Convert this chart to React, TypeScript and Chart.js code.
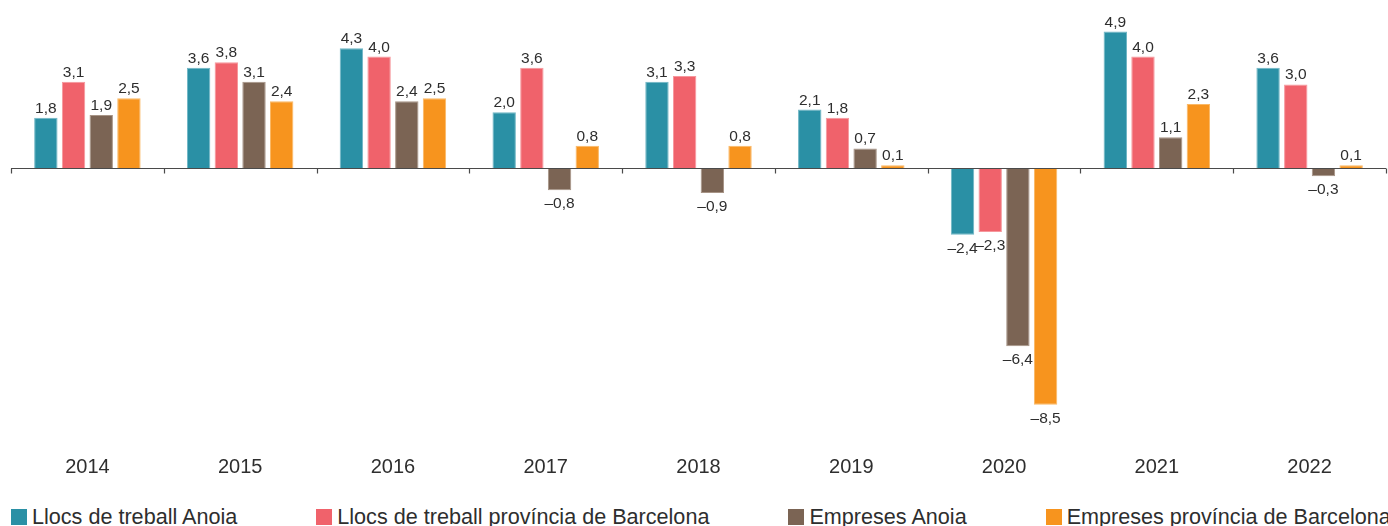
import React, { useEffect, useRef } from "react";
import { Chart, registerables } from "chart.js";

Chart.register(...registerables);

const years = ["2014", "2015", "2016", "2017", "2018", "2019", "2020", "2021", "2022"];
const seriesNames = [
  "Llocs de treball Anoia",
  "Llocs de treball província de Barcelona",
  "Empreses Anoia",
  "Empreses província de Barcelona",
];
const llocsAnoia = [1.8, 3.6, 4.3, 2.0, 3.1, 2.1, -2.4, 4.9, 3.6];
const llocsBarcelona = [3.1, 3.8, 4.0, 3.6, 3.3, 1.8, -2.3, 4.0, 3.0];
const empresesAnoia = [1.9, 3.1, 2.4, -0.8, -0.9, 0.7, -6.4, 1.1, -0.3];
const empresesBarcelona = [2.5, 2.4, 2.5, 0.8, 0.8, 0.1, -8.5, 2.3, 0.1];

const colors = ["#2a90a5", "#f0626b", "#7b6454", "#f7941e"];
const borderColors = ["#6fb6c5", "#f6979c", "#a79486", "#fab865"];

const FONT = "'Liberation Sans', Arial, Helvetica, sans-serif";
const TEXT = "#2e2e2e";

const fmt = (v: number) => (v < 0 ? "\u2013" : "") + Math.abs(v).toFixed(1).replace(".", ",");

const labelsPlugin = {
  id: "valueLabels",
  afterDatasetsDraw(chart: any) {
    const ctx = chart.ctx;
    ctx.save();
    ctx.font = `15.5px ${FONT}`;
    ctx.fillStyle = TEXT;
    ctx.textAlign = "center";
    chart.data.datasets.forEach((ds: any, di: number) => {
      const meta = chart.getDatasetMeta(di);
      meta.data.forEach((el: any, i: number) => {
        const v = ds.data[i];
        if (v >= 0) {
          ctx.textBaseline = "alphabetic";
          ctx.fillText(fmt(v), el.x, el.y - 5);
        } else {
          ctx.textBaseline = "top";
          ctx.fillText(fmt(v), el.x, el.y + 6);
        }
      });
    });
    ctx.restore();
  },
};

const axisPlugin = {
  id: "zeroAxis",
  afterDatasetsDraw(chart: any) {
    const ctx = chart.ctx;
    const xs = chart.scales.x;
    const ys = chart.scales.y;
    const y0 = Math.round(ys.getPixelForValue(0)) + 0.5;
    const { left, right } = chart.chartArea;
    ctx.save();
    ctx.strokeStyle = "#4a4a4a";
    ctx.lineWidth = 1.2;
    ctx.beginPath();
    ctx.moveTo(left, y0);
    ctx.lineTo(right, y0);
    const half = (xs.getPixelForValue(1) - xs.getPixelForValue(0)) / 2;
    for (let i = 0; i <= years.length; i++) {
      const x = Math.round(xs.getPixelForValue(i) - half) + 0.5;
      ctx.moveTo(x, y0);
      ctx.lineTo(x, y0 + 5);
    }
    ctx.stroke();
    ctx.restore();
  },
};

export default function App() {
  const ref = useRef<HTMLCanvasElement | null>(null);

  useEffect(() => {
    if (!ref.current) return;
    const values = [llocsAnoia, llocsBarcelona, empresesAnoia, empresesBarcelona];
    const chart = new Chart(ref.current, {
      type: "bar",
      data: {
        labels: years,
        datasets: values.map((d, i) => ({
          label: seriesNames[i],
          data: d,
          backgroundColor: colors[i],
          borderColor: borderColors[i],
          borderWidth: 1,
          categoryPercentage: 0.725,
          barPercentage: 0.845,
        })),
      },
      options: {
        animation: false,
        responsive: false,
        maintainAspectRatio: false,
        layout: { padding: { left: 11, right: 2, top: 10, bottom: 0 } },
        plugins: { legend: { display: false }, tooltip: { enabled: false } },
        scales: {
          x: {
            grid: { display: false, drawTicks: false },
            border: { display: false },
            ticks: { color: TEXT, font: { family: FONT, size: 20 }, padding: 5, maxRotation: 0 },
            afterFit: (scale: any) => {
              scale.height = 50;
            },
          },
          y: {
            display: false,
            min: -10.126,
            max: 5.673,
          },
        },
      },
      plugins: [labelsPlugin, axisPlugin],
    });
    return () => chart.destroy();
  }, []);

  return (
    <div style={{ position: "fixed", left: 0, top: 0, width: 1388, height: 526, background: "#fff", overflow: "hidden" }}>
      <canvas ref={ref} width={1388} height={500} style={{ display: "block", width: 1388, height: 500 }} />
      <div
        style={{
          position: "absolute",
          left: 11,
          top: 505,
          display: "flex",
          alignItems: "center",
          gap: 79,
          fontFamily: FONT,
          fontSize: 21.6,
          color: TEXT,
          whiteSpace: "nowrap",
          height: 24,
        }}
      >
        {seriesNames.map((n, i) => (
          <div key={n} style={{ display: "flex", alignItems: "center" }}>
            <span style={{ display: "inline-block", width: 16, height: 16, background: colors[i], marginRight: 5 }} />
            <span>{n}</span>
          </div>
        ))}
      </div>
    </div>
  );
}
